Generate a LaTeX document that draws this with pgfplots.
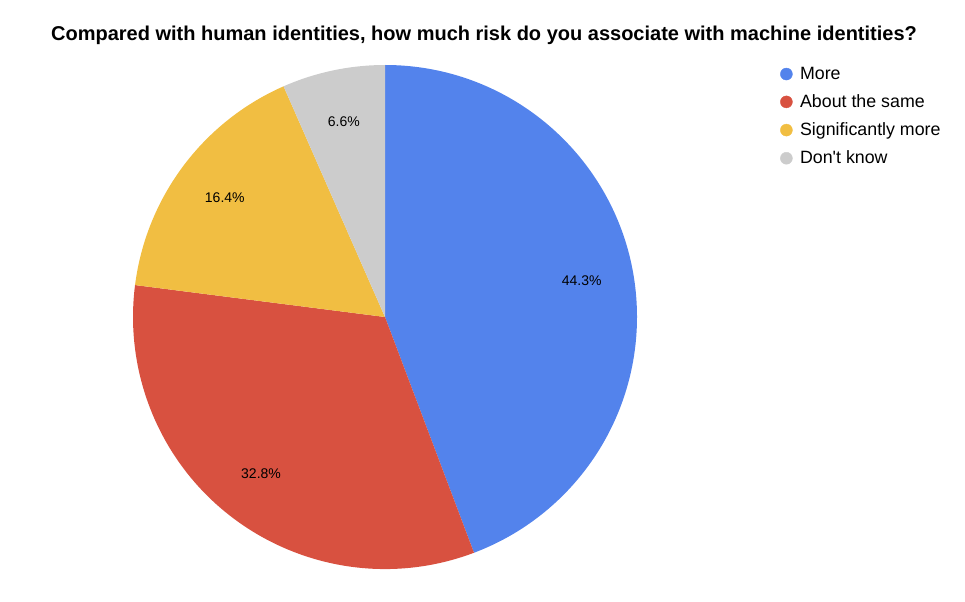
\documentclass[border=0pt]{standalone}
\usepackage{fontspec}
\setmainfont{Liberation Sans}[Ligatures=TeXOff]
\usepackage{pgfplots}
\pgfplotsset{compat=1.18}

\definecolor{cMore}{HTML}{5383EC}
\definecolor{cSame}{HTML}{D85140}
\definecolor{cSig}{HTML}{F1BE42}
\definecolor{cDont}{HTML}{CCCCCC}

% share (percent) / colour, clockwise from 12 o'clock
\def\piedata{44.3/cMore, 32.8/cSame, 16.4/cSig, 6.6/cDont}

\begin{document}
\begin{tikzpicture}
\begin{axis}[
  width=965bp, height=594bp, scale only axis,
  xmin=0, xmax=965, ymin=0, ymax=594,
  axis lines=none, clip=false,
  legend image code/.code={\fill (0bp,0bp) circle (6bp);},
  legend cell align=left,
  legend style={at={(axis cs:777,531)}, anchor=north west, draw=none, fill=none,
    font=\fontsize{17.8bp}{21bp}\selectfont, row sep=9.8bp,
    /tikz/every odd column/.append style={column sep=5.5bp}},
]
% keep the whole canvas in the picture
\path (axis cs:0,0) rectangle (axis cs:965,594);

\addlegendimage{cMore}\addlegendentry{More}
\addlegendimage{cSame}\addlegendentry{About the same}
\addlegendimage{cSig}\addlegendentry{Significantly more}
\addlegendimage{cDont}\addlegendentry{Don't know}

\pgfplotsextra{
  \xdef\pieangle{90}
  \foreach \v/\c in \piedata {
    \pgfmathsetmacro\b{\pieangle-360*\v/100.1}
    \pgfmathsetmacro\m{(\pieangle+\b)/2}
    \fill[\c] (axis cs:385,277) -- ([shift={(\pieangle:252bp)}]axis cs:385,277)
      arc[start angle=\pieangle, end angle=\b, radius=252bp] -- cycle;
    \node[font=\fontsize{14bp}{16bp}\selectfont]
      at ([shift={(\m:200bp)}]axis cs:385,277) {\v\%};
    \xdef\pieangle{\b}
  }
}

\node[font=\bfseries\fontsize{20bp}{24bp}\selectfont] at (axis cs:484,559)
  {Compared with human identities, how much risk do you associate with machine identities?};
\end{axis}
\end{tikzpicture}
\end{document}
